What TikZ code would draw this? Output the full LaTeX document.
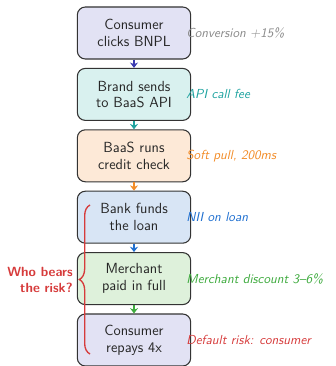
\documentclass[tikz,border=0pt]{standalone}
\usetikzlibrary{arrows.meta,decorations.pathreplacing,calc}
\definecolor{cIndigo}{HTML}{3B3BB0}
\definecolor{cLav}{HTML}{E2E2F4}
\definecolor{cTeal}{HTML}{1FA3A0}
\definecolor{cTealF}{HTML}{D9F1EF}
\definecolor{cOrange}{HTML}{F28C28}
\definecolor{cOrangeF}{HTML}{FDE9D7}
\definecolor{cBlue}{HTML}{1F6FD0}
\definecolor{cBlueF}{HTML}{D8E5F5}
\definecolor{cGreen}{HTML}{3DAA3D}
\definecolor{cGreenF}{HTML}{DEF1DB}
\definecolor{cRed}{HTML}{D63B3B}
\definecolor{cGray}{HTML}{8A8A8A}
\definecolor{cBorder}{HTML}{333333}
\tikzset{
  stepbox/.style={draw=cBorder, line width=0.8pt, rounded corners=6pt,
    minimum width=85pt, minimum height=39pt, align=center,
    font=\sffamily\fontsize{11}{12.5}\selectfont, text=black!85, inner sep=2pt},
  note/.style={anchor=west, font=\sffamily\itshape\fontsize{9.8}{11}\selectfont, inner sep=0pt},
  flow/.style={line width=0.9pt, -{Stealth[length=4pt,width=6pt]}},
}
\begin{document}
\begin{tikzpicture}[x=0.75pt,y=-0.75pt]
\useasboundingbox (0,0) rectangle (335,366);
\node[stepbox, fill=cLav]     (b1) at (134,33)    {Consumer\\clicks BNPL};
\node[stepbox, fill=cTealF]   (b2) at (134,94.4)  {Brand sends\\to BaaS API};
\node[stepbox, fill=cOrangeF] (b3) at (134,155.8) {BaaS runs\\credit check};
\node[stepbox, fill=cBlueF]   (b4) at (134,217.2) {Bank funds\\the loan};
\node[stepbox, fill=cGreenF]  (b5) at (134,278.6) {Merchant\\paid in full};
\node[stepbox, fill=cLav]     (b6) at (134,340)   {Consumer\\repays 4x};

\draw[flow, cIndigo] (b1.south) -- (b2.north);
\draw[flow, cTeal]   (b2.south) -- (b3.north);
\draw[flow, cOrange] (b3.south) -- (b4.north);
\draw[flow, cBlue]   (b4.south) -- (b5.north);
\draw[flow, cGreen]  (b5.south) -- (b6.north);

\node[note, text=cGray]   (n1) at ($(b1.east)+(-5,0)$) {Conversion +15\%};
\node[note, text=cTeal]   (n2) at ($(b2.east)+(-5,0)$) {API call fee};
\node[note, text=cOrange] (n3) at ($(b3.east)+(-5,0)$) {Soft pull, 200ms};
\node[note, text=cBlue]   (n4) at ($(b4.east)+(-5,0)$) {NII on loan};
\node[note, text=cGreen]  (n5) at ($(b5.east)+(-5,0)$) {Merchant discount 3--6\%};
\node[note, text=cRed]    (n6) at ($(b6.east)+(-5,0)$) {Default risk: consumer};

\coordinate (bb) at (90,354);
\coordinate (bt) at (90,205);
\draw[cRed, line width=1pt, decorate, decoration={brace, amplitude=8pt}] (bb) -- (bt);
\node[anchor=east, align=right, font=\sffamily\bfseries, text=cRed, inner sep=0pt] (q) at (73,279.5) {Who bears\\the risk?};
\end{tikzpicture}
\end{document}
